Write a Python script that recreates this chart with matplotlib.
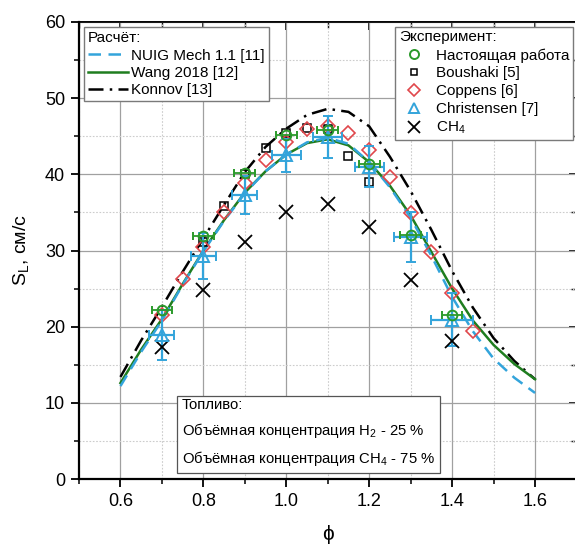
import matplotlib
matplotlib.use("Agg")
import matplotlib.pyplot as plt
from matplotlib.lines import Line2D
from matplotlib.ticker import MultipleLocator, NullFormatter

plt.rcParams['font.family'] = ['Liberation Sans', 'DejaVu Sans']
plt.rcParams['mathtext.fontset'] = 'custom'
plt.rcParams['mathtext.rm'] = 'Liberation Sans'
plt.rcParams['mathtext.it'] = 'Liberation Sans:italic'
plt.rcParams['mathtext.bf'] = 'Liberation Sans:bold'

# ---- calculated curves ----
phi_calc = [0.6, 0.65, 0.7, 0.75, 0.8, 0.85, 0.9, 0.95, 1.0, 1.05, 1.1,
            1.15, 1.2, 1.25, 1.3, 1.35, 1.4, 1.45, 1.5, 1.55, 1.6]
nuig = [12.2, 16.7, 20.8, 25.5, 29.9, 33.9, 37.5, 40.4, 42.6, 44.2, 44.8,
        44.0, 41.6, 38.3, 34.3, 29.3, 23.9, 19.4, 15.8, 13.3, 11.3]
wang = [12.6, 17.0, 21.0, 25.6, 30.0, 34.0, 37.6, 40.4, 42.6, 44.1, 44.6,
        43.8, 41.6, 38.5, 34.6, 29.8, 25.0, 20.8, 17.6, 15.1, 13.1]
konnov = [13.4, 18.2, 22.6, 27.2, 31.6, 36.0, 40.3, 43.6, 46.0, 47.8, 48.6,
          48.2, 46.3, 42.3, 37.8, 32.7, 27.3, 22.5, 18.5, 15.5, 13.1]

# ---- experiments ----
phi_exp = [0.7, 0.8, 0.9, 1.0, 1.1, 1.2, 1.3, 1.4]
present = [22.2, 31.9, 40.2, 45.2, 45.8, 41.4, 32.0, 21.5]
present_xerr = [0.025] * 8

boushaki_phi = [0.8, 0.85, 0.9, 0.95, 1.0, 1.05, 1.1, 1.15, 1.2]
boushaki = [31.1, 35.8, 40.0, 43.4, 45.4, 46.1, 46.0, 42.4, 39.0]

coppens_phi = [0.7, 0.75, 0.8, 0.85, 0.9, 0.95, 1.0, 1.05, 1.1, 1.15,
               1.2, 1.25, 1.3, 1.35, 1.4, 1.45]
coppens = [21.5, 26.3, 30.5, 35.1, 38.8, 41.9, 44.3, 46.0, 46.3, 45.4,
           43.2, 39.6, 34.9, 29.8, 24.4, 19.4]

christensen = [18.9, 29.3, 37.3, 42.5, 44.9, 41.0, 31.8, 20.9]
chr_yerr = [3.3, 3.0, 2.5, 2.2, 2.7, 2.7, 3.3, 3.5]
chr_xerr = [0.03, 0.03, 0.03, 0.035, 0.035, 0.035, 0.04, 0.05]

ch4 = [17.3, 24.8, 31.1, 35.1, 36.1, 33.1, 26.1, 18.1]

c_blue = '#33a4db'
c_green_line = '#1f7d1f'
c_green = '#2b9a2b'
c_red = '#e0474c'

fig = plt.figure(figsize=(5.75, 5.47), dpi=100)
ax = fig.add_axes([79 / 575, 68 / 547, 497.5 / 575, 457 / 547])

ax.set_xlim(0.5, 1.7)
ax.set_ylim(0, 60)
ax.xaxis.set_major_locator(MultipleLocator(0.2))
ax.xaxis.set_minor_locator(MultipleLocator(0.1))
ax.yaxis.set_major_locator(MultipleLocator(10))
ax.yaxis.set_minor_locator(MultipleLocator(5))

ax.grid(which='major', color='#a0a0a0', lw=0.9, ls='-', zorder=0)
ax.grid(which='minor', color='#cccccc', lw=0.8, ls=(0, (1.5, 1.5)), zorder=0)
ax.set_axisbelow(True)

for s in ['left', 'bottom']:
    ax.spines[s].set_linewidth(1.6)
for s in ['top', 'right']:
    ax.spines[s].set_linewidth(1.2)

ax.tick_params(which='major', direction='out', length=6, width=1.3,
               labelsize=13, pad=4)
ax.tick_params(which='minor', direction='out', length=3.5, width=1.1)
ax.set_xticks([0.6, 0.8, 1.0, 1.2, 1.4, 1.6])
ax.set_xticklabels(['0.6', '0.8', '1.0', '1.2', '1.4', '1.6'])

secx = ax.secondary_xaxis('top')
secx.xaxis.set_major_locator(MultipleLocator(0.2))
secx.xaxis.set_minor_locator(MultipleLocator(0.1))
secx.xaxis.set_major_formatter(NullFormatter())
secx.tick_params(which='major', direction='in', length=6, width=1.2)
secx.tick_params(which='minor', direction='in', length=4, width=1.0)
secx.spines['top'].set_linewidth(1.2)

secy = ax.secondary_yaxis('right')
secy.yaxis.set_major_locator(MultipleLocator(10))
secy.yaxis.set_minor_locator(MultipleLocator(5))
secy.yaxis.set_major_formatter(NullFormatter())
secy.tick_params(which='major', direction='in', length=6, width=1.2)
secy.tick_params(which='minor', direction='in', length=4, width=1.0)

# curves
ax.plot(phi_calc, konnov, color='black', lw=1.8, ls=(0, (6, 2.5, 1, 2.5)), zorder=3)
ax.plot(phi_calc, wang, color=c_green_line, lw=1.8, ls='-', zorder=3)
ax.plot(phi_calc, nuig, color=c_blue, lw=1.8, ls=(0, (5, 3)), zorder=3)

# experiments
ax.plot(boushaki_phi, boushaki, ls='none', marker='s', ms=5.5, mfc='none',
        mec='black', mew=1.1, zorder=5)
ax.plot(coppens_phi, coppens, ls='none', marker='D', ms=7, mfc='none',
        mec=c_red, mew=1.2, zorder=5)
ax.errorbar(phi_exp, christensen, xerr=chr_xerr, yerr=chr_yerr, ls='none',
            marker='^', ms=8, mfc='none', mec=c_blue, mew=1.4, ecolor=c_blue,
            elinewidth=1.6, capsize=3.5, capthick=1.4, zorder=6)
ax.errorbar(phi_exp, present, xerr=present_xerr, ls='none', marker='o', ms=7,
            mfc='none', mec=c_green, mew=1.4, ecolor=c_green, elinewidth=1.3,
            capsize=3, capthick=1.2, zorder=7)
ax.plot(phi_exp, ch4, ls='none', marker='x', ms=10, mec='black', mew=1.3,
        zorder=6)

ax.set_xlabel('ϕ', fontsize=15, labelpad=11)
ax.set_ylabel(r'S$_\mathregular{L}$, см/с', fontsize=14, labelpad=10)

# legend 1: calculations
h1 = [Line2D([], [], color=c_blue, lw=1.8, ls=(0, (5, 3))),
      Line2D([], [], color=c_green_line, lw=1.8),
      Line2D([], [], color='black', lw=1.8, ls=(0, (6, 2.5, 1, 2.5)))]
l1 = ['NUIG Mech 1.1 [11]', 'Wang 2018 [12]', 'Konnov [13]']
leg1 = ax.legend(h1, l1, title='Расчёт:', loc='upper left',
                 bbox_to_anchor=(0.01, 0.988), fontsize=11, title_fontsize=11,
                 frameon=True, fancybox=False, framealpha=1, edgecolor='#7a7a7a',
                 borderpad=0.25, labelspacing=0.22, handlelength=2.6,
                 handletextpad=0.25, borderaxespad=0, alignment='left')
leg1.get_frame().set_linewidth(1.0)
ax.add_artist(leg1)

# legend 2: experiments
h2 = [Line2D([], [], ls='none', marker='o', ms=6.5, mfc='none', mec=c_green, mew=1.4),
      Line2D([], [], ls='none', marker='s', ms=5, mfc='none', mec='black', mew=1.1),
      Line2D([], [], ls='none', marker='D', ms=6.5, mfc='none', mec=c_red, mew=1.2),
      Line2D([], [], ls='none', marker='^', ms=7, mfc='none', mec=c_blue, mew=1.4),
      Line2D([], [], ls='none', marker='x', ms=9, mec='black', mew=1.3)]
l2 = ['Настоящая работа', 'Boushaki [5]', 'Coppens [6]', 'Christensen [7]',
      r'CH$_4$']
leg2 = ax.legend(h2, l2, title='Эксперимент:', loc='upper right',
                 bbox_to_anchor=(0.993, 0.99), fontsize=11, title_fontsize=11,
                 frameon=True, fancybox=False, framealpha=1, edgecolor='#7a7a7a',
                 borderpad=0.25, labelspacing=0.25, handlelength=2.0,
                 handletextpad=0.4, borderaxespad=0, alignment='left')
leg2.get_frame().set_linewidth(1.0)

# fuel text box
ax.text(0.748, 10.6,
        'Топливо:\nОбъёмная концентрация H$_2$ - 25 %\nОбъёмная концентрация CH$_4$ - 75 %',
        fontsize=10.7, va='top', ha='left', linespacing=1.65, zorder=8,
        bbox=dict(boxstyle='square,pad=0.3', fc='white', ec='#555555', lw=0.9))

fig.savefig('out.png', dpi=100)
